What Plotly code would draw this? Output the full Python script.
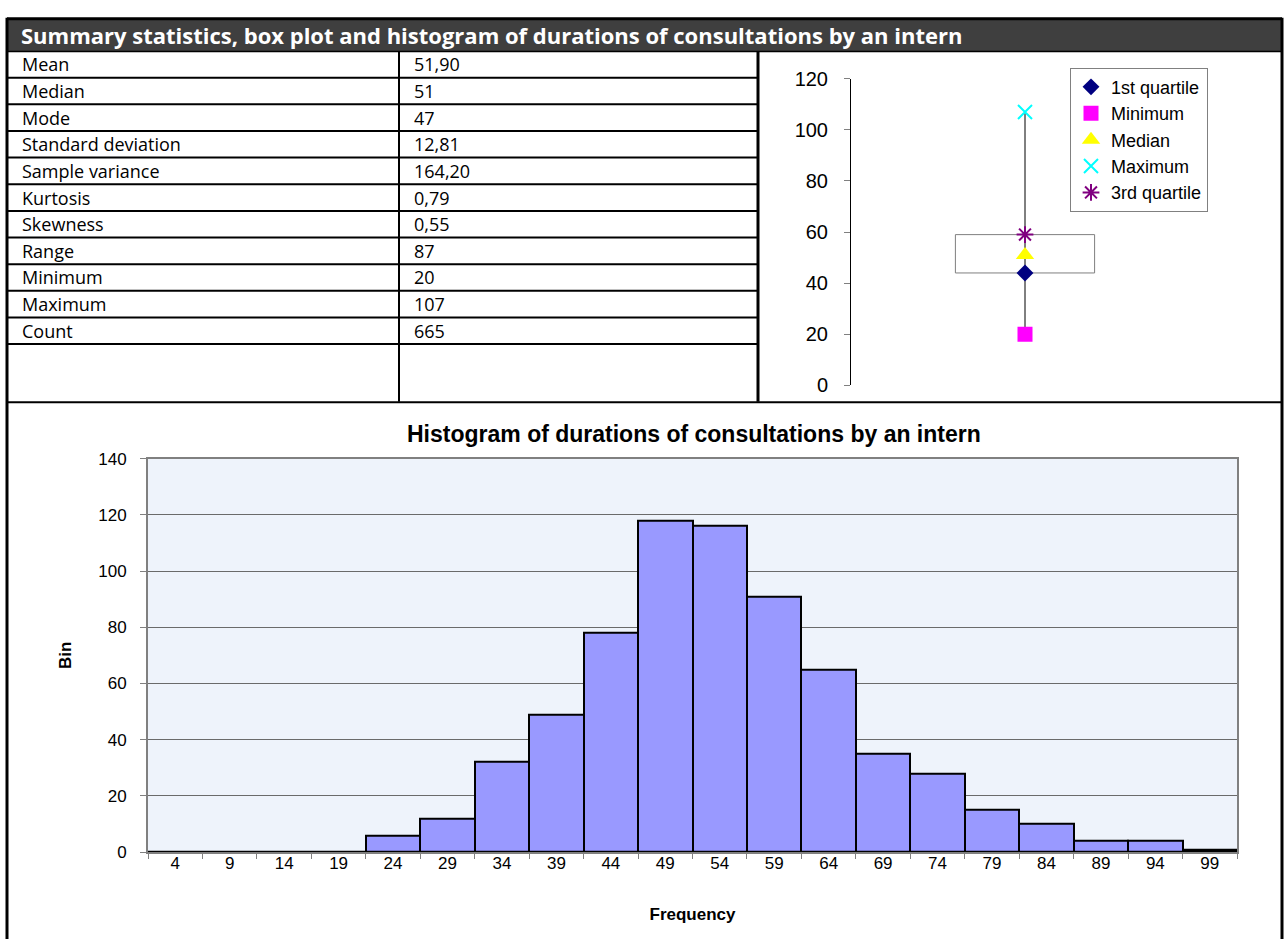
import plotly.graph_objects as go

# ---- data ----
stat_names = ["Mean", "Median", "Mode", "Standard deviation", "Sample variance",
              "Kurtosis", "Skewness", "Range", "Minimum", "Maximum", "Count"]
stat_values = [51.90, 51, 47, 12.81, 164.20, 0.79, 0.55, 87, 20, 107, 665]
stat_decimals = [2, 0, 0, 2, 2, 2, 2, 0, 0, 0, 0]

box_names = ["1st quartile", "Minimum", "Median", "Maximum", "3rd quartile"]
box_values = [44, 20, 51, 107, 59]

bin_labels = ["4", "9", "14", "19", "24", "29", "34", "39", "44", "49",
              "54", "59", "64", "69", "74", "79", "84", "89", "94", "99"]
bin_counts = [0, 0, 0, 0, 6, 12, 32, 49, 78, 118, 116, 91, 65, 35, 28, 15, 10, 4, 4, 1]

sheet_title = "Summary statistics, box plot and histogram of durations of consultations by an intern"
hist_title = "Histogram of durations of consultations by an intern"

# ---- page geometry (pixels) ----
W, H = 1284, 950


def px(x):
    return x / W


def py(y):
    return 1 - y / H


fig = go.Figure()

# ---- box plot ----
q1, vmin, vmed, vmax, q3 = box_values
fig.add_trace(go.Scatter(x=[0.5, 0.5], y=[vmin, vmax], mode="lines",
                         line=dict(color="black", width=1),
                         xaxis="x2", yaxis="y2", showlegend=False, hoverinfo="skip"))
fig.add_trace(go.Scatter(x=[0.3, 0.7, 0.7, 0.3, 0.3], y=[q1, q1, q3, q3, q1], mode="lines",
                         line=dict(color="#7f7f7f", width=1),
                         xaxis="x2", yaxis="y2", showlegend=False, hoverinfo="skip"))

marker_styles = [
    dict(symbol="diamond", size=13, color="#000080"),
    dict(symbol="square", size=15, color="#FF00FF"),
    dict(symbol="triangle-up", size=16, color="#FFFF00"),
    dict(symbol="x-thin-open", size=14, color="#00FFFF", line=dict(color="#00FFFF", width=2)),
    dict(symbol="asterisk-open", size=14, color="#800080", line=dict(color="#800080", width=2)),
]
for name, val, mk in zip(box_names, box_values, marker_styles):
    fig.add_trace(go.Scatter(x=[0.5], y=[val], mode="markers", name=name, marker=mk,
                             xaxis="x2", yaxis="y2", legendgroup=name))

# ---- histogram ----
fig.add_trace(go.Bar(x=bin_labels, y=bin_counts, xaxis="x3", yaxis="y3",
                     marker=dict(color="#9999FF", line=dict(color="black", width=2)),
                     showlegend=False))

shapes = []
annotations = []

# title bar
shapes.append(dict(type="rect", xref="paper", yref="paper",
                   x0=px(7), x1=px(1282), y0=py(41), y1=py(8),
                   fillcolor="#3f3f3f", line=dict(width=0), layer="below"))
annotations.append(dict(xref="paper", yref="paper", x=px(19), y=py(25),
                        xanchor="left", yanchor="middle", showarrow=False,
                        text="<b>" + sheet_title + "</b>",
                        font=dict(family="Open Sans", size=22, color="white")))

# table rows
row_top = 41
row_h = 27.27
for i, (name, val, dec) in enumerate(zip(stat_names, stat_values, stat_decimals)):
    yc = row_top + row_h * (i + 0.5)
    annotations.append(dict(xref="paper", yref="paper", x=px(20), y=py(yc),
                            xanchor="left", yanchor="middle", showarrow=False, text=name,
                            font=dict(family="Open Sans", size=18, color="black")))
    annotations.append(dict(xref="paper", yref="paper", x=px(412), y=py(yc),
                            xanchor="left", yanchor="middle", showarrow=False,
                            text=f"{val:.{dec}f}".replace(".", ","),
                            font=dict(family="Open Sans", size=18, color="black")))
    yl = row_top + row_h * (i + 1)
    shapes.append(dict(type="line", xref="paper", yref="paper",
                       x0=px(7), x1=px(758), y0=py(yl), y1=py(yl),
                       line=dict(color="black", width=2)))

# table column dividers and outer frame
shapes.append(dict(type="line", xref="paper", yref="paper", x0=px(399), x1=px(399),
                   y0=py(41), y1=py(400), line=dict(color="black", width=2)))
shapes.append(dict(type="line", xref="paper", yref="paper", x0=px(758), x1=px(758),
                   y0=py(41), y1=py(400), line=dict(color="black", width=3)))
shapes.append(dict(type="line", xref="paper", yref="paper", x0=px(7), x1=px(1282),
                   y0=py(41.5), y1=py(41.5), line=dict(color="black", width=1.5)))
shapes.append(dict(type="line", xref="paper", yref="paper", x0=px(7), x1=px(1282),
                   y0=py(400.5), y1=py(400.5), line=dict(color="black", width=2)))
shapes.append(dict(type="line", xref="paper", yref="paper", x0=px(7), x1=px(1282),
                   y0=py(8), y1=py(8), line=dict(color="black", width=3)))
shapes.append(dict(type="line", xref="paper", yref="paper", x0=px(7), x1=px(7),
                   y0=py(7), y1=py(950), line=dict(color="black", width=3)))
shapes.append(dict(type="line", xref="paper", yref="paper", x0=px(1282), x1=px(1282),
                   y0=py(7), y1=py(950), line=dict(color="black", width=3)))

# histogram plot area fill
shapes.append(dict(type="rect", xref="x3 domain", yref="y3 domain", x0=0, x1=1, y0=0, y1=1,
                   fillcolor="#EEF3FB", line=dict(width=0), layer="below"))

annotations.append(dict(xref="paper", yref="paper", x=px(694), y=py(433),
                        xanchor="center", yanchor="middle", showarrow=False,
                        text="<b>" + hist_title + "</b>",
                        font=dict(family="Liberation Sans", size=23, color="black")))

axis_font = dict(family="Liberation Sans", size=17, color="black")

fig.update_layout(
    width=W, height=H, autosize=False,
    margin=dict(l=0, r=0, t=0, b=0),
    paper_bgcolor="white", plot_bgcolor="white",
    bargap=0,
    shapes=shapes, annotations=annotations,
    xaxis=dict(visible=False),
    yaxis=dict(visible=False),
    xaxis2=dict(domain=[px(851), px(1199)], range=[0, 1], visible=False, anchor="y2"),
    yaxis2=dict(domain=[py(383.3), py(69.3)], range=[0, 120], dtick=20, anchor="x2",
                showgrid=False, zeroline=False, showline=True, linecolor="black", linewidth=1,
                ticks="outside", ticklen=6, tickcolor="#808080", ticklabelstandoff=12,
                tickfont=dict(family="Liberation Sans", size=20, color="black")),
    xaxis3=dict(domain=[px(148), px(1237)], range=[-0.5, 19.5], type="category", anchor="y3",
                showgrid=False, showline=True, linecolor="#808080", linewidth=2, mirror=True,
                layer="below traces",
                ticks="outside", tickson="boundaries", ticklen=5, tickcolor="#808080",
                ticklabelstandoff=-5, tickfont=axis_font,
                title=dict(text="<b>Frequency</b>", font=axis_font, standoff=36)),
    yaxis3=dict(domain=[py(861), py(458.3)], range=[0, 140], dtick=20, anchor="x3",
                showgrid=True, gridcolor="#6a6a6a", gridwidth=1, zeroline=False,
                showline=True, linecolor="#808080", linewidth=2, mirror=True,
                layer="below traces",
                ticks="outside", ticklen=6, tickcolor="#808080", ticklabelstandoff=10,
                tickfont=axis_font,
                title=dict(text="<b>Bin</b>", font=axis_font, standoff=22)),
    legend=dict(x=px(1070), y=py(58), xanchor="left", yanchor="top",
                bgcolor="white", bordercolor="#808080", borderwidth=1,
                font=dict(family="Liberation Sans", size=18, color="black"),
                entrywidth=132, entrywidthmode="pixels",
                tracegroupgap=0, itemsizing="trace"),
)

page_js = (
    "var s=document.documentElement.style;s.margin='0';s.padding='0';s.overflow='hidden';"
    "var b=document.body.style;b.margin='0';b.padding='0';b.overflow='hidden';"
)
fig.write_html("out.html", post_script=page_js)
